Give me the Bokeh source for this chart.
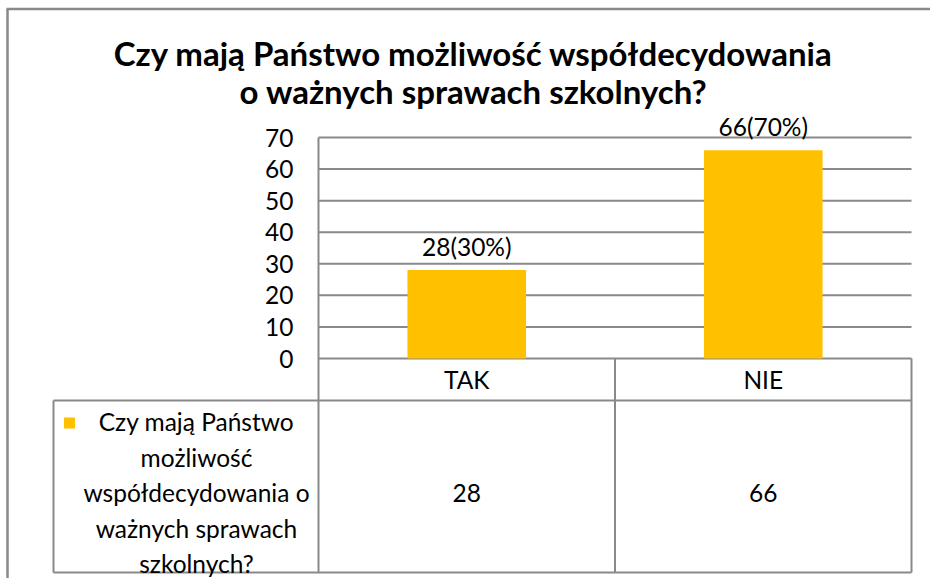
from bokeh.plotting import figure
from bokeh.models import Range1d
from bokeh.core.properties import value
from bokeh.embed import file_html
from bokeh.resources import INLINE

# ---- data ----
categories = ["TAK", "NIE"]
counts = [28, 66]
y_ticks = [0, 10, 20, 30, 40, 50, 60, 70]
title_lines = ["Czy mają Państwo możliwość współdecydowania",
               "o ważnych sprawach szkolnych?"]
series_lines = ["Czy mają Państwo", "możliwość", "współdecydowania o",
                "ważnych sprawach", "szkolnych?"]

# ---- layout (canvas pixels) ----
W, H = 930, 578
PLOT_L = 318.0      # left edge of plot area
CAT_W = 296.5       # width of one category
ZERO_Y = 358.0      # pixel row of value 0
PX = 3.157          # pixels per value unit
HDR_B = 400.0       # bottom of header row of data table
TBL_B = 572.0       # bottom of data table
LEG_L = 53.0        # left edge of legend cell
GRID = "#898989"
BAR = "#FFC000"
FONT = value("Lato")
FS = "24.5px"

def cx(px):
    return (px - PLOT_L) / CAT_W

def cy(py):
    return (ZERO_Y - py) / PX

n = len(categories)
p = figure(width=W, height=H,
           x_range=Range1d(cx(0), cx(W)), y_range=Range1d(cy(H), cy(0)),
           output_backend="svg", toolbar_location=None, min_border=0,
           x_axis_location=None, y_axis_location=None)
p.xgrid.visible = False
p.ygrid.visible = False
p.outline_line_color = None
p.background_fill_color = "white"
p.border_fill_color = "white"

# outer chart border (top, left)
p.segment(x0=[cx(6), cx(7)], y0=[cy(8.5), cy(8.5)], x1=[cx(W), cx(7)], y1=[cy(8.5), cy(H)],
          line_color=GRID, line_width=2.5)

# horizontal gridlines
p.segment(x0=[0] * len(y_ticks), y0=y_ticks, x1=[n] * len(y_ticks), y1=y_ticks,
          line_color=GRID, line_width=2)

# bars
xs = [i + 0.5 for i in range(n)]
p.vbar(x=xs, top=counts, width=0.4, fill_color=BAR, line_color=None)

# data labels
total = sum(counts)
labels = [f"{v}({round(100 * v / total)}%)" for v in counts]
p.text(x=xs, y=counts, text=labels, text_align="center", text_baseline="middle",
       y_offset=-24, text_font=FONT, text_font_size=FS, text_color="black")

# y tick labels
p.text(x=[cx(293)] * len(y_ticks), y=y_ticks, text=[str(t) for t in y_ticks],
       text_align="right", text_baseline="middle", text_font=FONT,
       text_font_size=FS, text_color="black")

# data table lines
v_x = [i for i in range(n + 1)]
p.segment(x0=v_x, y0=[y_ticks[-1]] + [0] * n, x1=v_x, y1=[cy(TBL_B)] * (n + 1),
          line_color=GRID, line_width=2)
p.segment(x0=[cx(LEG_L), cx(LEG_L), cx(LEG_L)], y0=[cy(HDR_B), cy(HDR_B), cy(TBL_B)],
          x1=[n, cx(LEG_L), n], y1=[cy(HDR_B), cy(TBL_B), cy(TBL_B)],
          line_color=GRID, line_width=2)

# category labels in header row
p.text(x=xs, y=[cy((ZERO_Y + HDR_B) / 2)] * n, text=categories,
       text_align="center", text_baseline="middle", text_font=FONT,
       text_font_size=FS, text_color="black")

# values row
p.text(x=xs, y=[cy(492)] * n, text=[str(v) for v in counts],
       text_align="center", text_baseline="middle", text_font=FONT,
       text_font_size=FS, text_color="black")

# legend key and series name
p.scatter(x=[cx(69)], y=[cy(422.5)], marker="square", size=11,
          fill_color=BAR, line_color=None)
line_y = [421 + 35.5 * i for i in range(len(series_lines))]
p.text(x=[cx(196)] * len(series_lines), y=[cy(v) for v in line_y], text=series_lines,
       text_align="center", text_baseline="middle", text_font=FONT,
       text_font_size=FS, text_color="black")

# title
p.text(x=[cx(473)] * 2, y=[cy(52), cy(90)], text=title_lines,
       text_align="center", text_baseline="middle", text_font=FONT,
       text_font_size="33px", text_font_style="bold", text_color="black")

open("out.html", "w").write(file_html(p, INLINE))
